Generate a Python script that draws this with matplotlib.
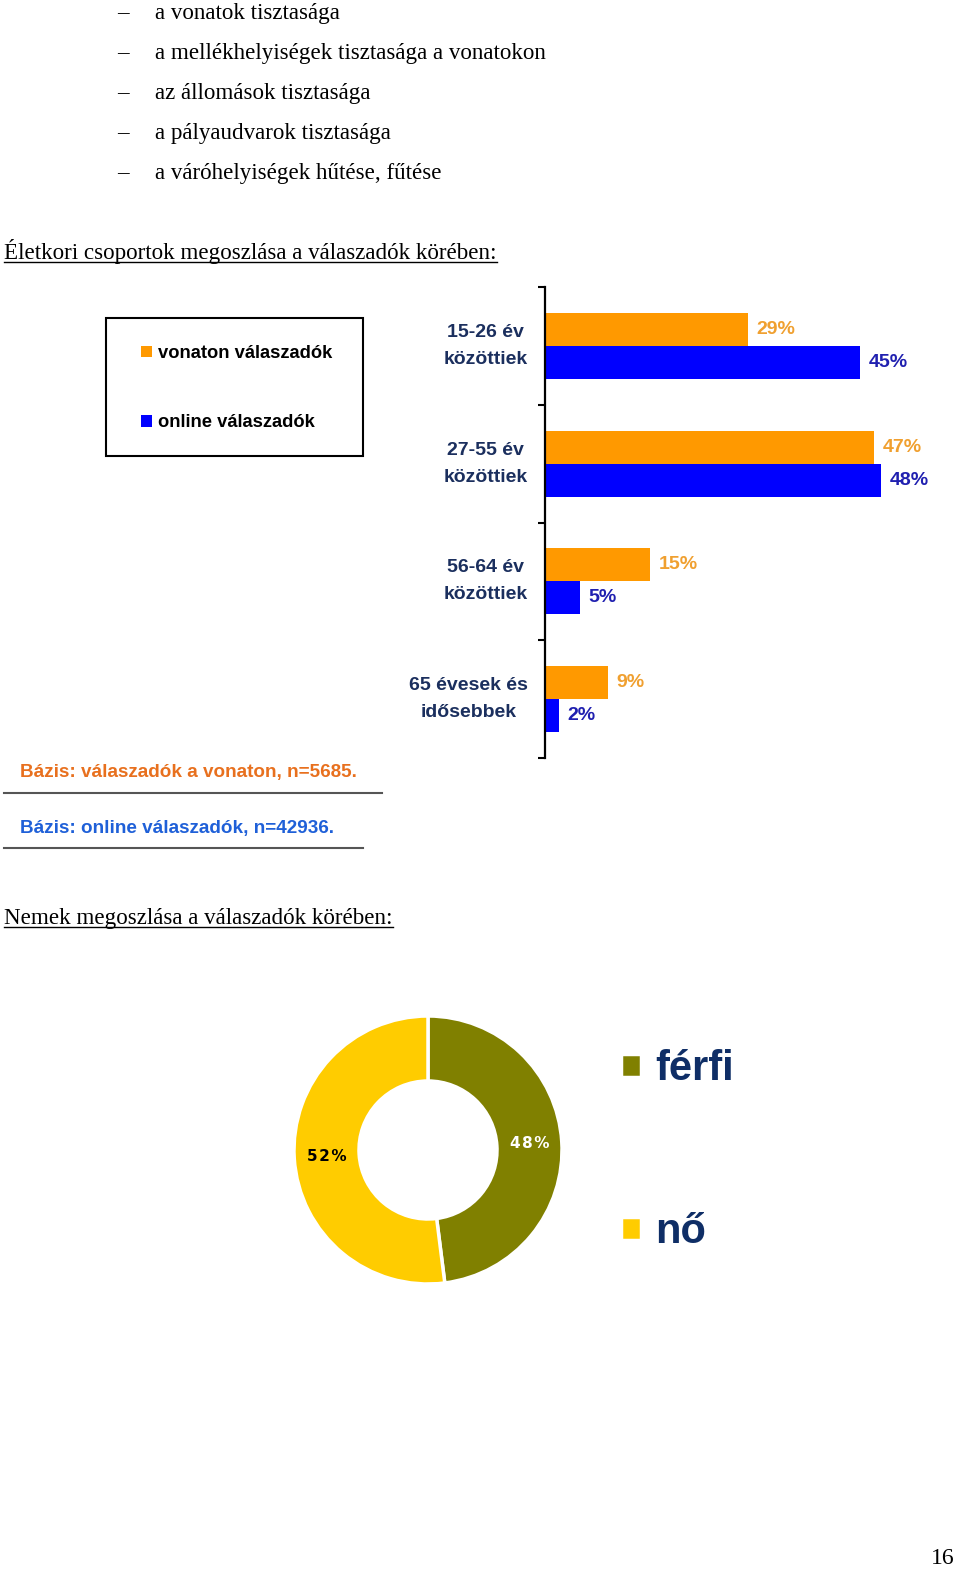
import matplotlib
matplotlib.use('Agg')
import matplotlib.pyplot as plt
from matplotlib.patches import Rectangle
from matplotlib.lines import Line2D
import numpy as np

# bar chart data
age_groups = ['15-26 év\nközöttiek', '27-55 év\nközöttiek', '56-64 év\nközöttiek', '65 évesek és\nidősebbek']
vonaton = [29, 47, 15, 9]
online = [45, 48, 5, 2]
series_names = ['vonaton válaszadók', 'online válaszadók']

# donut data
genders = ['férfi', 'nő']
gender_share = [48, 52]

bullets = ['a vonatok tisztasága',
           'a mellékhelyiségek tisztasága a vonatokon',
           'az állomások tisztasága',
           'a pályaudvarok tisztasága',
           'a váróhelyiségek hűtése, fűtése']

W, H = 960, 1576
fig = plt.figure(figsize=(W / 100, H / 100), dpi=100)


def px(x, y):
    return x / W, 1 - y / H


serif = 'Liberation Serif'
sans = 'Liberation Sans'

for i, b in enumerate(bullets):
    y = 14 + i * 39.8
    fig.text(*px(117, y), '–', family=serif, fontsize=16.6, va='center')
    fig.text(*px(155, y), b, family=serif, fontsize=16.6, va='center')

t1 = fig.text(*px(4, 251), 'Életkori csoportok megoszlása a válaszadók körében:',
              family=serif, fontsize=16.6, va='center')
t2 = fig.text(*px(4, 919), 'Nemek megoszlása a válaszadók körében:',
              family=serif, fontsize=16.6, va='center')
fig.text(*px(955, 1558), '16', family=serif, fontsize=17, va='center', ha='right')

# ---- bar chart ----
orange = '#FF9900'
blue = '#0000FF'
ax = fig.add_axes([545 / W, 1 - 758 / H, 413 / W, 471 / H])
y = np.arange(len(age_groups))
h = 0.28
b1 = ax.barh(y - h / 2, vonaton, height=h, color=orange, label=series_names[0])
b2 = ax.barh(y + h / 2, online, height=h, color=blue, label=series_names[1])
ax.set_xlim(0, 59)
ax.set_ylim(3.5, -0.5)
ax.set_xticks([])
ax.set_yticks(y, age_groups, fontsize=14, fontweight='bold', family=sans,
              color='#1B2F5E', multialignment='center', linespacing=1.75,
              verticalalignment='center')
ax.set_yticks(np.arange(-0.5, 4, 1), minor=True)
ax.tick_params(axis='y', which='major', length=0, pad=12.5)
ax.tick_params(axis='y', which='minor', length=5, width=1.5, direction='out')
for s in ['top', 'right', 'bottom']:
    ax.spines[s].set_visible(False)
ax.spines['left'].set_linewidth(1.6)
ax.bar_label(b1, labels=[f'{v}%' for v in vonaton], padding=6, color='#F0A030',
             fontsize=14, fontweight='bold', family=sans)
ax.bar_label(b2, labels=[f'{v}%' for v in online], padding=6, color='#2020B0',
             fontsize=14, fontweight='bold', family=sans)

# legend box
fig.add_artist(Rectangle(px(106, 456), 257 / W, 138 / H, transform=fig.transFigure,
                         fill=False, edgecolor='black', linewidth=1.5))
fig.legend(handles=[b1, b2], labels=series_names, loc='upper left',
           bbox_to_anchor=px(141, 345), frameon=False,
           prop={'family': sans, 'weight': 'bold', 'size': 13.2},
           handlelength=0.6, handleheight=0.6, handletextpad=0.3,
           labelspacing=2.85, borderpad=0, borderaxespad=0)

# base notes
fig.text(*px(20, 773), 'Bázis: válaszadók a vonaton, n=5685.', family=sans,
         fontsize=13.6, fontweight='bold', color='#E8701E', va='center')
fig.add_artist(Line2D([4 / W, 382 / W], [1 - 793 / H] * 2, transform=fig.transFigure,
                      color='#555555', linewidth=1.5))
fig.text(*px(20, 828), 'Bázis: online válaszadók, n=42936.', family=sans,
         fontsize=13.6, fontweight='bold', color='#1F60D8', va='center')
fig.add_artist(Line2D([4 / W, 363 / W], [1 - 848 / H] * 2, transform=fig.transFigure,
                      color='#555555', linewidth=1.5))

# ---- donut ----
r_px = 134
half = 160
ax2 = fig.add_axes([(428 - half) / W, 1 - (1150 + half) / H, 2 * half / W, 2 * half / H])
wedges, texts, autotexts = ax2.pie(gender_share, colors=['#808000', '#FFCC00'],
                                   startangle=90, counterclock=False,
                                   autopct=lambda p: '\u200a'.join(f'{p:.0f}%'),
                                   pctdistance=0.76,
                                   wedgeprops=dict(width=0.485, edgecolor='white', linewidth=2.5))
lim = half / r_px
ax2.set_xlim(-lim, lim)
ax2.set_ylim(-lim, lim)
ax2.set_aspect('equal')
for t, c in zip(autotexts, ['white', 'black']):
    t.set_color(c)
    t.set_fontweight('bold')
    t.set_fontsize(11)
    t.set_family('DejaVu Sans')

fig.legend(handles=wedges, labels=genders, loc='upper left',
           bbox_to_anchor=px(621, 1049), frameon=False,
           prop={'family': sans, 'weight': 'bold', 'size': 30},
           labelcolor='#0F2E66',
           handlelength=0.48, handleheight=0.48, handletextpad=0.33,
           labelspacing=2.95, borderpad=0, borderaxespad=0)

# underline headings
fig.canvas.draw()
for t in [t1, t2]:
    bb = t.get_window_extent()
    yy = bb.y0 + 2
    fig.add_artist(Line2D([bb.x0 / W, bb.x1 / W], [yy / H, yy / H], transform=fig.transFigure,
                          color='black', linewidth=1))

fig.savefig('out.png', dpi=100)
